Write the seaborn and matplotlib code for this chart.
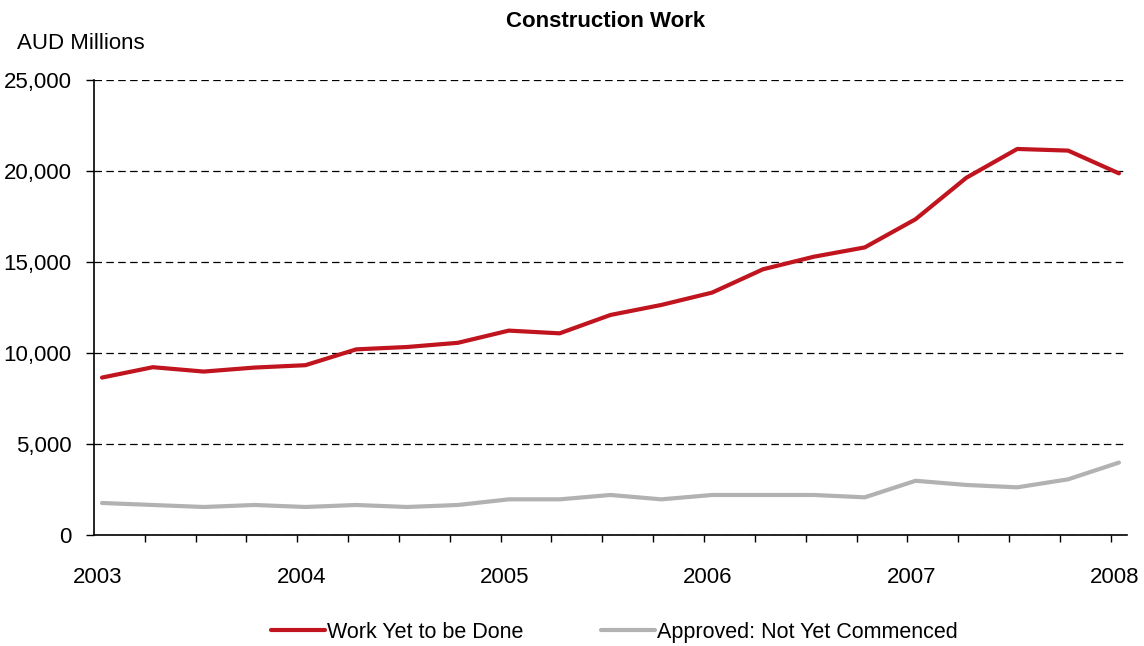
import numpy as np
import pandas as pd
import matplotlib
matplotlib.use('Agg')
import matplotlib.pyplot as plt
import seaborn as sns
from matplotlib.ticker import FixedLocator, FuncFormatter

# quarterly observations, 2003 Q1 .. 2008 Q1 (index = quarter number)
quarters = list(range(21))
years = ['2003', '2004', '2005', '2006', '2007', '2008']

work_yet_to_be_done = [8650, 9220, 8980, 9200, 9330, 10200, 10330, 10560,
                       11230, 11080, 12090, 12640, 13320, 14600, 15290, 15800,
                       17350, 19630, 21210, 21120, 19870]
approved_not_commenced = [1760, 1650, 1540, 1650, 1540, 1650, 1540, 1650,
                          1960, 1960, 2200, 1960, 2200, 2200, 2200, 2070,
                          2980, 2750, 2620, 3060, 3980]

series_names = ['Work Yet to be Done', 'Approved: Not Yet Commenced']
series_colors = ['#C0141E', '#B2B2B2']

sns.set_theme(style='white')
plt.rcParams['font.family'] = ['Liberation Sans', 'DejaVu Sans']
plt.rcParams['font.size'] = 16
plt.rcParams['text.color'] = 'black'

df = pd.DataFrame({
    'quarter': quarters,
    series_names[0]: work_yet_to_be_done,
    series_names[1]: approved_not_commenced,
}).melt(id_vars='quarter', var_name='series', value_name='value')

fig = plt.figure(figsize=(11.44, 6.46), dpi=100)
ax = fig.add_axes([0.0822, 0.1718, 0.9030, 0.7044])

sns.lineplot(data=df, x='quarter', y='value', hue='series', hue_order=series_names,
             palette=series_colors, linewidth=3, ax=ax, legend=True)

ax.set_xlim(-0.157, 20.16)
ax.set_ylim(0, 25000)
ax.set_xlabel('')
ax.set_ylabel('')

# y axis: dashed gridlines, thousands separator
ax.yaxis.set_major_locator(FixedLocator([0, 5000, 10000, 15000, 20000, 25000]))
ax.yaxis.set_major_formatter(FuncFormatter(lambda v, p: f'{v:,.0f}'))
ax.yaxis.grid(True, linestyle=(0, (6, 3.5)), color='black', linewidth=0.9)
ax.xaxis.grid(False)
ax.tick_params(axis='y', which='major', left=True, length=6, width=1, color='black',
               pad=10, labelsize=16, labelcolor='black')

# x axis: tick marks every quarter, year labels
ax.xaxis.set_minor_locator(FixedLocator([q - 0.16 for q in quarters]))
ax.xaxis.set_major_locator(FixedLocator([4 * i - 0.08 for i in range(len(years))]))
ax.set_xticklabels(years)
ax.tick_params(axis='x', which='minor', bottom=True, length=5, width=1, color='black')
ax.tick_params(axis='x', which='major', bottom=True, length=0, pad=23,
               labelsize=16, labelcolor='black')

for side in ['top', 'right']:
    ax.spines[side].set_visible(False)
for side in ['left', 'bottom']:
    ax.spines[side].set_color('black')
    ax.spines[side].set_linewidth(1.2)

ax.get_legend().remove()
handles, labels = ax.get_lines()[:2], series_names
fig.legend(handles, labels, loc='center', bbox_to_anchor=(0.537, 0.021), ncol=2,
           frameon=False, handlelength=2.5, handletextpad=0.1, columnspacing=3.6,
           fontsize=15.5)

fig.text(0.529, 0.966, 'Construction Work', ha='center', va='center',
         fontsize=16, fontweight='bold')
fig.text(0.015, 0.932, 'AUD Millions', ha='left', va='center', fontsize=16)

fig.savefig('out.png', dpi=100)
